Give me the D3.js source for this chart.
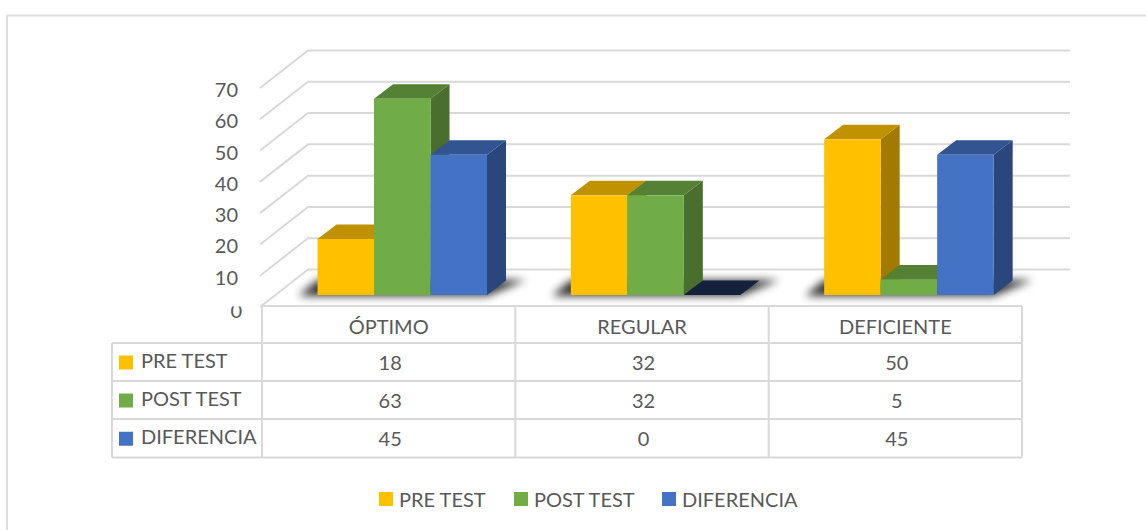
<!DOCTYPE html>
<html>
<head>
<meta charset="utf-8">
<script src="https://cdn.jsdelivr.net/npm/d3@7"></script>
<style>
  html, body { margin: 0; padding: 0; background: #fff; }
  text { font-family: Lato, "Open Sans", sans-serif; fill: #595959; }
</style>
</head>
<body>
<svg width="1146" height="530"></svg>
<script>
let categories = ['ÓPTIMO', 'REGULAR', 'DEFICIENTE']
let seriesNames = ['PRE TEST', 'POST TEST', 'DIFERENCIA']
let preTest = [18, 32, 50]
let postTest = [63, 32, 5]
let diferencia = [45, 0, 45]
let seriesValues = [preTest, postTest, diferencia]
let yTicks = [0, 10, 20, 30, 40, 50, 60, 70]

let colors = ['#ffc000', '#70ad47', '#4472c4']
let topColors = ['#c09100', '#558135', '#325491']
let sideColors = ['#a27a00', '#4a6e2d', '#2a477d']
let gridColor = '#d9d9d9'

let tableLeft = 262
let tableRight = 1022
let depthX = 46
let depthY = 36.5
let barDepthX = 19
let barDepthY = 14.5
let baseY = 295

let svg = d3.select('svg')

// outer frame of the chart, open on the right
svg.append('path')
    .attr('d', 'M7,530V15.5H1146')
    .attr('fill', 'none')
    .attr('stroke', '#dedede')
    .attr('stroke-width', 2)

let defs = svg.append('defs')
defs.append('filter')
    .attr('id', 'soft')
    .attr('x', '-20%').attr('y', '-100%')
    .attr('width', '140%').attr('height', '300%')
  .append('feGaussianBlur')
    .attr('stdDeviation', 4)

// the 0 label has its top cut off by the table edge
defs.append('clipPath')
    .attr('id', 'zeroClip')
  .append('rect')
    .attr('x', 200).attr('y', 306.5).attr('width', 60).attr('height', 20)

// y scale of the front edge; the back wall is the same scale moved by the depth
let yScale = d3.scaleLinear().domain([0, 70]).range([306, 87])
let barScale = d3.scaleLinear().domain([0, 70]).range([baseY, baseY - 218])

let xScale = d3.scaleBand()
    .domain(categories)
    .range([tableLeft, tableRight])
let groupScale = d3.scaleBand()
    .domain(seriesNames)
    .range([0, 169.5])
let groupOffset = 55.5

// wall gridlines and floor diagonals
let grid = svg.append('g')
    .attr('fill', 'none')
    .attr('stroke', gridColor)
    .attr('stroke-width', 2)
grid.selectAll('path')
  .data(yTicks)
  .enter()
  .append('path')
    .attr('d', d => `M${tableLeft - 2},${yScale(d) + 1}L${tableLeft + depthX},${yScale(d) - depthY}H1070`)

// tick labels
svg.append('g')
  .selectAll('text')
  .data(yTicks)
  .enter()
  .append('text')
    .attr('x', d => d === 0 ? 242 : 238)
    .attr('y', d => yScale(d) + (d === 0 ? 12 : 10))
    .attr('text-anchor', 'end')
    .attr('clip-path', d => d === 0 ? 'url(#zeroClip)' : null)
    .style('font-size', '20px')
    .text(d => d)

// bars, one group per category
let cells = []
categories.forEach((c, i) => {
  seriesNames.forEach((s, j) => {
    cells.push({ category: c, series: s, index: j, value: seriesValues[j][i] })
  })
})

// floor shadows
svg.append('g')
  .selectAll('path')
  .data(categories)
  .enter()
  .append('path')
    .attr('d', d => {
      let x0 = xScale(d) + groupOffset
      let x1 = x0 + 169.5
      return `M${x0 - 19},${baseY + 1}H${x1}L${x1 + barDepthX + 20},${baseY - 15}H${x0}Z`
    })
    .attr('fill', '#000')
    .attr('opacity', 0.8)
    .attr('filter', 'url(#soft)')

let bars = svg.append('g')
  .selectAll('g')
  .data(cells)
  .enter()
  .append('g')
    .attr('transform', d => `translate(${xScale(d.category) + groupOffset + groupScale(d.series)},0)`)

let w = groupScale.bandwidth()

// zero height bars only show a flat dark top
bars.append('path')
    .attr('d', d => `M${w},${baseY}V${barScale(d.value)}l${barDepthX},${-barDepthY}V${baseY - barDepthY}Z`)
    .attr('fill', d => sideColors[d.index])
    .style('display', d => d.value === 0 ? 'none' : null)

bars.append('path')
    .attr('d', d => `M0,${barScale(d.value)}H${w}l${barDepthX},${-barDepthY}H${barDepthX}Z`)
    .attr('fill', d => d.value === 0 ? '#14213d' : topColors[d.index])

bars.append('rect')
    .attr('x', 0)
    .attr('y', d => barScale(d.value))
    .attr('width', w)
    .attr('height', d => baseY - barScale(d.value))
    .attr('fill', d => colors[d.index])

// data table
let rowLines = [306, 343, 381, 419, 457.5]
let rowMiddles = d3.pairs(rowLines).map(p => (p[0] + p[1]) / 2)

let lines = svg.append('g')
    .attr('fill', 'none')
    .attr('stroke', gridColor)
    .attr('stroke-width', 2)
rowLines.forEach((y, i) => {
  lines.append('line')
      .attr('x1', i === 0 ? tableLeft : 112).attr('x2', tableRight)
      .attr('y1', y).attr('y2', y)
})
xScale.domain().concat('end').forEach(c => {
  let x = c === 'end' ? tableRight : xScale(c)
  lines.append('line')
      .attr('x1', x).attr('x2', x)
      .attr('y1', 306).attr('y2', 457.5)
})
lines.append('line')
    .attr('x1', 112).attr('x2', 112)
    .attr('y1', 343).attr('y2', 457.5)

svg.append('g')
  .selectAll('text')
  .data(categories)
  .enter()
  .append('text')
    .attr('x', d => xScale(d) + xScale.bandwidth() / 2)
    .attr('y', rowMiddles[0] + 9)
    .attr('text-anchor', 'middle')
    .style('font-size', '20px')
    .text(d => d)

svg.append('g')
  .selectAll('text')
  .data(cells)
  .enter()
  .append('text')
    .attr('x', d => xScale(d.category) + xScale.bandwidth() / 2 + 1.5)
    .attr('y', d => rowMiddles[d.index + 1] + 8)
    .attr('text-anchor', 'middle')
    .style('font-size', '20px')
    .text(d => d.value)

seriesNames.forEach((s, i) => {
  svg.append('rect')
      .attr('x', 119).attr('y', rowMiddles[i + 1] - 6.5)
      .attr('width', 14).attr('height', 14)
      .attr('fill', colors[i])
  svg.append('text')
      .attr('x', 141).attr('y', rowMiddles[i + 1] + 6)
      .style('font-size', '20px')
      .text(s)
})

// legend
let legendX = [379, 514, 662]
seriesNames.forEach((s, i) => {
  svg.append('rect')
      .attr('x', legendX[i]).attr('y', 492)
      .attr('width', 14).attr('height', 14)
      .attr('fill', colors[i])
  svg.append('text')
      .attr('x', legendX[i] + 20).attr('y', 506.5)
      .style('font-size', '20px')
      .text(s)
})
</script>
</body>
</html>
